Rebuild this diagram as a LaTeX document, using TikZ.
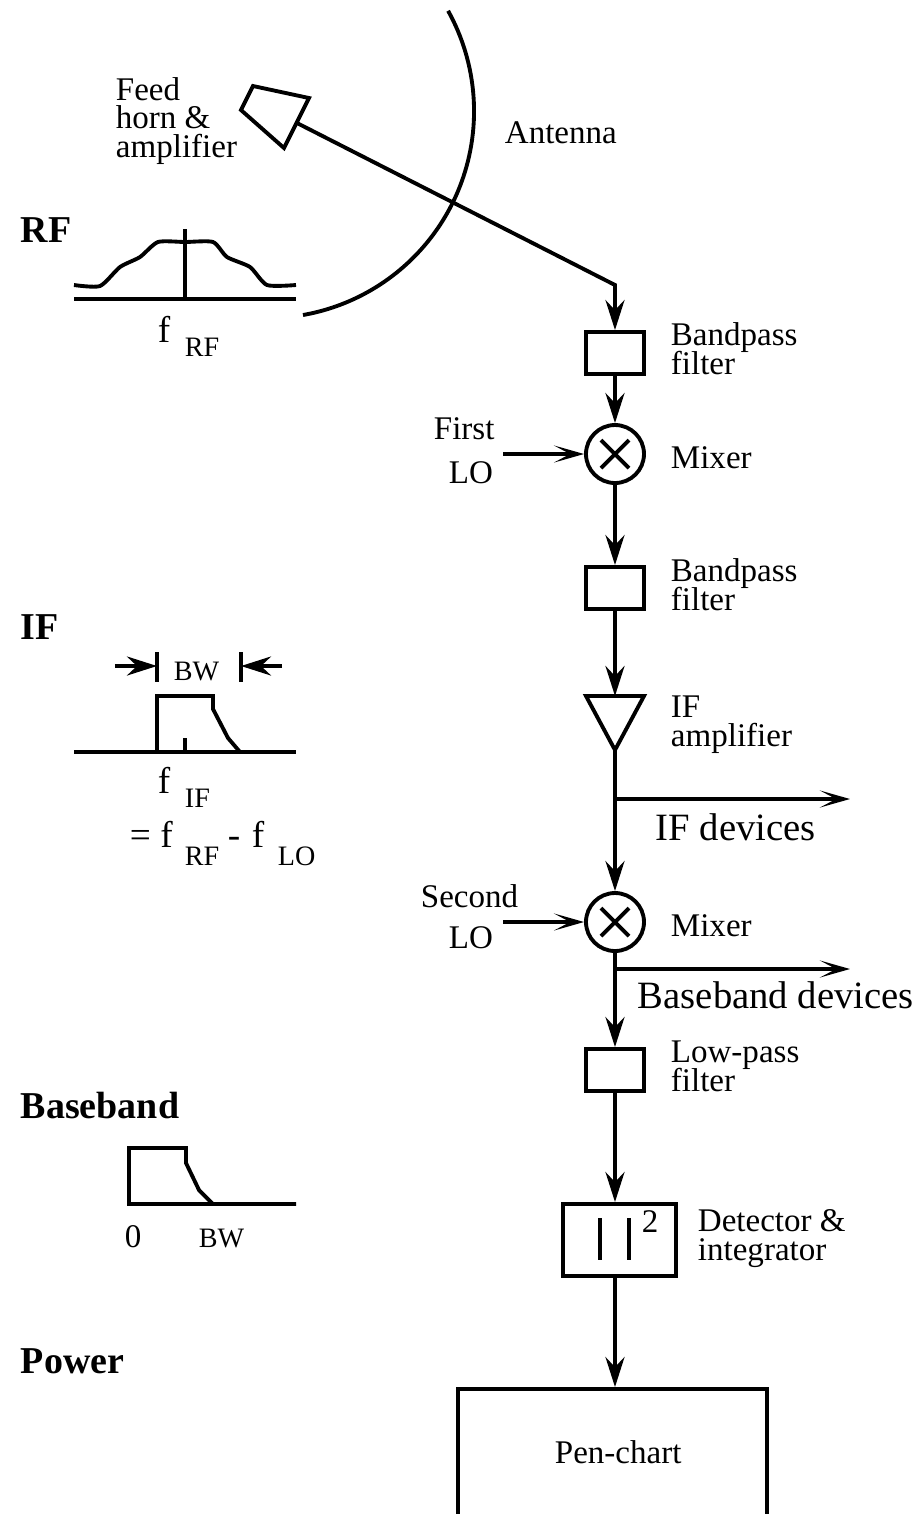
\documentclass[tikz,border=0pt]{standalone}
\usepackage{fontspec}
\setmainfont{Liberation Serif}
\usetikzlibrary{arrows.meta,positioning,calc}
\newcommand{\lblfont}{\fontsize{9.4}{8.1}\selectfont\setlength{\lineskiplimit}{-20pt}}

\begin{document}
\begin{tikzpicture}[line width=1.1pt,
      lbl/.style={inner sep=0pt, anchor=base west, align=left, font=\lblfont},
      big/.style={inner sep=0pt, anchor=base west, font=\fontsize{11}{13}\selectfont},
      head/.style={inner sep=0pt, anchor=base west, font=\fontsize{10.8}{13}\selectfont\bfseries},
      sym/.style={inner sep=0pt, anchor=base west, font=\fontsize{10.6}{13}\selectfont},
      sub/.style={inner sep=0pt, anchor=base west, font=\fontsize{8}{10}\selectfont},
      bpf/.style={draw, minimum width=5.8mm, minimum height=4.2mm, inner sep=0pt},
      mixer/.style={draw, circle, minimum size=5.8mm, inner sep=0pt,
        path picture={\draw (-.14,-.14) -- (.14,.14); \draw (-.14,.14) -- (.14,-.14);}},
      edge/.style={-{Stealth[length=3mm, width=1.9mm, inset=1mm]}},
      tap/.style={-{Stealth[length=3mm, width=1.7mm, inset=1.6mm]}}]
    \useasboundingbox (0,0) rectangle (9.2,-15.14);
    % signal chain
    \node[bpf] (filt1) at (6.15,-3.53) {};
    \node[mixer] (mix1) at (6.15,-4.54) {};
    \node[bpf] (filt2) at (6.15,-5.88) {};
    \coordinate (amptop) at (6.15,-6.96);
    \coordinate (ampout) at (6.15,-7.50);
    \draw (5.86,-6.96) -- (6.44,-6.96) -- (ampout) -- cycle;
    \coordinate (ifsplit) at (6.15,-7.99);
    \coordinate (ifend) at (8.50,-7.99);
    \node[mixer] (mix2) at (6.15,-9.22) {};
    \coordinate (bbsplit) at (6.15,-9.69);
    \coordinate (bbend) at (8.50,-9.69);
    \node[bpf] (low) at (6.15,-10.70) {};
    \node[draw, minimum width=11.3mm, minimum height=7.2mm, inner sep=0pt] (det) at (6.195,-12.40) {};
    \draw (6.00,-12.18) -- (6.00,-12.60);
    \draw (6.29,-12.18) -- (6.29,-12.60);
    \node[draw, minimum width=30.9mm, minimum height=12.8mm, inner sep=0pt] (pen) at (6.125,-14.53) {};
    \coordinate (lo1) at (5.03,-4.54);
    \coordinate (lo2) at (5.03,-9.22);
    % feed and antenna
    \draw (2.53,-.86) -- (3.09,-.98) -- (2.84,-1.48) -- (2.41,-1.10) -- cycle;
    \coordinate (feed) at (2.97,-1.23);
    \coordinate (bend) at (6.15,-2.85);
    \draw (3.03,-3.15) arc[start angle=-80, end angle=29, radius=2.07];
    \draw[edge] (feed) -- (bend) -- (filt1.north);
    \draw[edge] (filt1) -- (mix1);
    \draw[edge] (mix1) -- (filt2);
    \draw[edge] (filt2) -- (amptop);
    \draw[edge] (ampout) -- (mix2);
    \draw[tap] (ifsplit) -- (ifend);
    \draw[tap] (lo1) -- (mix1);
    \draw[tap] (lo2) -- (mix2);
    \draw[edge] (mix2) -- (low);
    \draw[tap] (bbsplit) -- (bbend);
    \draw[edge] (low) -- (low |- det.north);
    \draw[edge] (low |- det.south) -- (low |- pen.north);
    % labels on the chain
    \node[lbl] (feedlbl) at (1.14,-1.57) {Feed\\horn \&\\amplifier};
    \node[lbl] (antlbl) at (5.03,-1.43) {Antenna};
    \node[lbl] (filt1lbl) at (6.69,-3.74) {Bandpass\\filter};
    \node[lbl] (first) at (4.32,-4.39) {First};
    \node[lbl] (lo1lbl) at (4.47,-4.83) {LO};
    \node[lbl] (mix1lbl) at (6.69,-4.68) {Mixer};
    \node[lbl] (filt2lbl) at (6.69,-6.10) {Bandpass\\filter};
    \node[lbl] (amplbl) at (6.69,-7.46) {IF\\amplifier};
    \node[big] (iflbl) at (6.54,-8.40) {IF devices};
    \node[lbl] (second) at (4.19,-9.07) {Second};
    \node[lbl] (lo2lbl) at (4.47,-9.48) {LO};
    \node[lbl] (mix2lbl) at (6.69,-9.36) {Mixer};
    \node[big] (bblbl) at (6.36,-10.08) {Baseband devices};
    \node[lbl] (lowlbl) at (6.69,-10.91) {Low-pass\\filter};
    \node[lbl] (square) at (6.40,-12.32) {2};
    \node[lbl] (detlbl) at (6.96,-12.60) {Detector \&\\integrator};
    \node[lbl] (penlbl) at (5.53,-14.63) {Pen-chart};
    % RF spectrum
    \node[head] (rfhead) at (.19,-2.42) {RF};
    \draw (.74,-2.99) -- (2.96,-2.99);
    \draw (1.85,-2.29) -- (1.85,-2.99);
    \draw plot[smooth, tension=.4] coordinates {(.74,-2.85) (1.00,-2.86) (1.20,-2.67) (1.40,-2.57)
      (1.58,-2.42) (1.85,-2.42) (2.13,-2.42) (2.27,-2.57) (2.50,-2.67) (2.67,-2.85) (2.96,-2.85)};
    \node[sym] (frf) at (1.56,-3.42) {f};
    \node[sub] (frfsub) at (1.83,-3.56) {RF};
    % IF spectrum
    \node[head] (ifhead) at (.19,-6.39) {IF};
    \draw (.74,-7.52) -- (2.96,-7.52);
    \draw (1.57,-7.52) -- (1.57,-6.96) -- (2.13,-6.96) -- (2.13,-7.09) -- (2.28,-7.38) -- (2.40,-7.52);
    \draw (1.85,-7.38) -- (1.85,-7.52);
    \coordinate (bwl) at (1.57,-6.66);
    \coordinate (bwr) at (2.41,-6.66);
    \coordinate (bwla) at (1.15,-6.66);
    \coordinate (bwra) at (2.82,-6.66);
    \draw (1.57,-6.52) -- (1.57,-6.82);
    \draw (2.41,-6.52) -- (2.41,-6.82);
    \draw[edge] (bwla) -- (bwl);
    \draw[edge] (bwra) -- (bwr);
    \node[sub] (bwlbl) at (1.72,-6.80) {BW};
    \node[sym] (fif) at (1.56,-7.93) {f};
    \node[sub] (fifsub) at (1.83,-8.07) {IF};
    \node[sym] (eqf) at (1.28,-8.47) {= f};
    \node[sub] (eqrf) at (1.83,-8.65) {RF};
    \node[sym] (minus) at (2.26,-8.47) {-};
    \node[sym] (flo) at (2.50,-8.47) {f};
    \node[sub] (lolbl) at (2.76,-8.65) {LO};
    % baseband spectrum
    \node[head] (bbhead) at (.19,-11.18) {Baseband};
    \draw (2.96,-12.04) -- (1.29,-12.04) -- (1.29,-11.48) -- (1.86,-11.48) -- (1.86,-11.63) -- (1.99,-11.90) -- (2.13,-12.04);
    \node[lbl] (zero) at (1.23,-12.47) {0};
    \node[sub] (bwbb) at (1.97,-12.47) {BW};
    % power
    \node[head] (powhead) at (.19,-13.73) {Power};
  \end{tikzpicture}
\end{document}
